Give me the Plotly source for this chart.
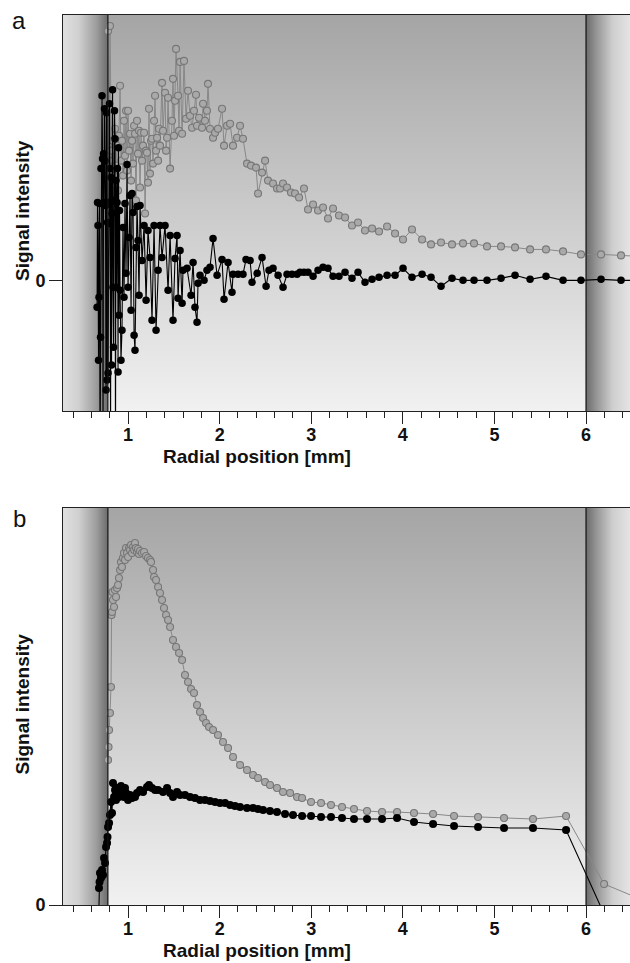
import plotly.graph_objects as go

# ---------------- data (x: radial position in mm, y: signal intensity, arbitrary units) ----------------
# Panel a, black (filled) series
A_BLACK = [
    (0.662, -27), (0.667, 78), (0.672, 55), (0.678, -80), (0.683, -17), (0.689, 77), (0.694, -180),
    (0.700, -57), (0.705, 112), (0.716, 185), (0.722, 122), (0.727, -160), (0.733, 127), (0.738, 78),
    (0.743, 172), (0.749, 120), (0.754, 75), (0.760, -110), (0.765, 168), (0.771, -100), (0.776, 58),
    (0.782, -93), (0.787, 78), (0.793, 57), (0.798, 177), (0.803, 112), (0.809, -180), (0.814, 103),
    (0.820, -85), (0.825, 67), (0.831, 191), (0.836, -7), (0.842, -67), (0.847, 80), (0.852, 170),
    (0.858, 142), (0.863, -170), (0.869, 100), (0.874, -7), (0.880, 78), (0.885, 112), (0.891, -92),
    (0.896, 133), (0.901, -35), (0.907, 70), (0.913, -10), (0.923, -80), (0.934, -50), (0.945, 53),
    (0.956, -17), (0.967, 77), (0.978, 7), (0.989, 116), (1.000, -7), (1.011, 43), (1.022, 85),
    (1.033, -30), (1.044, 87), (1.055, 68), (1.066, -55), (1.076, -70), (1.087, 33), (1.098, 74),
    (1.109, 40), (1.120, -15), (1.131, 75), (1.153, 20), (1.175, 55), (1.197, -20), (1.218, 50),
    (1.240, 23), (1.262, -40), (1.284, 55), (1.306, -50), (1.328, 10), (1.349, 55), (1.371, 23),
    (1.404, 55), (1.437, -10), (1.459, 45), (1.491, -40), (1.513, 22), (1.535, 45), (1.546, -18),
    (1.568, 30), (1.590, -23), (1.600, 10), (1.644, 12), (1.688, -15), (1.710, 18), (1.731, -27),
    (1.753, -42), (1.764, -3), (1.786, 5), (1.830, 0), (1.862, 10), (1.895, 13), (1.928, 42),
    (1.972, 5), (2.026, 21), (2.048, -19), (2.092, 18), (2.135, -12), (2.146, 6), (2.201, 6),
    (2.255, 6), (2.288, 21), (2.332, 20), (2.354, -2), (2.410, 7), (2.463, 23), (2.507, -6),
    (2.539, 10), (2.583, 12), (2.638, 5), (2.692, -7), (2.736, 6), (2.790, 6), (2.845, 6),
    (2.878, 8), (2.921, 8), (2.965, 8), (3.020, 4), (3.074, 10), (3.129, 13), (3.183, 12),
    (3.238, 4), (3.303, 4), (3.369, 8), (3.445, 2), (3.511, 8), (3.587, -2), (3.664, 1),
    (3.740, 3), (3.828, 5), (3.915, 5), (4.002, 12), (4.100, 3), (4.210, 6), (4.308, 3),
    (4.417, -6), (4.537, 2), (4.657, 0), (4.777, 0), (4.919, 0), (5.072, 2), (5.225, 5),
    (5.389, 1), (5.563, 4), (5.749, 0), (5.945, 0), (6.164, 1), (6.382, 0), (6.590, 0),
]

# Panel a, grey (open) series
A_GREY = [
    (0.782, 250), (0.793, 120), (0.803, 255), (0.814, 130), (0.825, 80), (0.836, 140), (0.847, 105),
    (0.858, 152), (0.869, 115), (0.880, 135), (0.891, 90), (0.901, 145), (0.913, 195), (0.923, 120),
    (0.934, 140), (0.945, 105), (0.956, 160), (0.967, 125), (0.978, 170), (0.989, 110), (1.000, 170),
    (1.011, 130), (1.022, 147), (1.033, 100), (1.044, 140), (1.055, 117), (1.066, 155), (1.076, 147),
    (1.087, 80), (1.098, 160), (1.109, 127), (1.120, 150), (1.131, 93), (1.142, 148), (1.153, 120),
    (1.164, 135), (1.175, 148), (1.186, 67), (1.197, 130), (1.207, 128), (1.218, 98), (1.229, 172),
    (1.240, 107), (1.251, 140), (1.262, 142), (1.273, 117), (1.284, 160), (1.295, 185), (1.306, 130),
    (1.317, 143), (1.328, 120), (1.338, 152), (1.349, 135), (1.371, 198), (1.382, 150), (1.404, 188),
    (1.415, 130), (1.426, 143), (1.437, 183), (1.459, 112), (1.480, 160), (1.491, 202), (1.502, 145),
    (1.513, 180), (1.524, 232), (1.546, 185), (1.557, 150), (1.568, 219), (1.590, 147), (1.611, 220),
    (1.633, 162), (1.655, 190), (1.677, 165), (1.699, 153), (1.720, 170), (1.742, 186), (1.753, 155),
    (1.775, 163), (1.808, 153), (1.819, 177), (1.840, 160), (1.862, 170), (1.873, 197), (1.895, 152),
    (1.928, 143), (1.950, 148), (1.982, 152), (2.026, 172), (2.048, 135), (2.081, 155), (2.114, 157),
    (2.146, 135), (2.190, 143), (2.223, 155), (2.255, 142), (2.299, 117), (2.343, 115), (2.397, 113),
    (2.419, 87), (2.463, 108), (2.496, 120), (2.528, 100), (2.583, 97), (2.626, 92), (2.659, 92),
    (2.692, 97), (2.736, 93), (2.779, 88), (2.823, 87), (2.867, 83), (2.921, 92), (2.965, 71),
    (3.020, 76), (3.074, 70), (3.129, 73), (3.183, 62), (3.238, 72), (3.303, 65), (3.369, 63),
    (3.445, 55), (3.511, 58), (3.587, 50), (3.664, 52), (3.740, 49), (3.828, 54), (3.915, 47),
    (4.002, 41), (4.100, 51), (4.210, 41), (4.308, 36), (4.417, 38), (4.537, 36), (4.657, 37),
    (4.777, 37), (4.919, 34), (5.072, 34), (5.225, 33), (5.389, 31), (5.563, 31), (5.749, 29),
    (5.945, 26), (6.164, 26), (6.382, 25), (6.590, 24),
]

# Panel b, black (filled) series
B_BLACK = [
    (0.678, -20), (0.683, 17), (0.689, 23), (0.694, 32), (0.705, 27), (0.716, 35), (0.727, 30),
    (0.738, 47), (0.749, 42), (0.760, 58), (0.771, 62), (0.776, 68), (0.782, 78), (0.793, 82),
    (0.803, 90), (0.814, 103), (0.825, 92), (0.836, 122), (0.847, 108), (0.858, 115), (0.869, 105),
    (0.880, 117), (0.891, 115), (0.901, 108), (0.913, 113), (0.923, 119), (0.934, 110), (0.945, 115),
    (0.956, 108), (0.967, 117), (0.978, 112), (1.000, 105), (1.022, 110), (1.044, 107), (1.076, 108),
    (1.098, 112), (1.131, 115), (1.164, 113), (1.207, 118), (1.229, 120), (1.262, 117), (1.295, 115),
    (1.328, 115), (1.382, 113), (1.426, 117), (1.459, 112), (1.491, 108), (1.535, 113), (1.568, 110),
    (1.622, 110), (1.677, 108), (1.731, 107), (1.786, 105), (1.840, 105), (1.895, 104), (1.950, 103),
    (2.004, 102), (2.059, 102), (2.114, 100), (2.168, 99), (2.223, 98), (2.299, 97), (2.365, 97),
    (2.419, 96), (2.474, 95), (2.550, 94), (2.626, 93), (2.714, 91), (2.801, 90), (2.900, 89),
    (2.998, 89), (3.107, 88), (3.216, 88), (3.336, 87), (3.467, 86), (3.609, 86), (3.773, 86),
    (3.937, 87), (4.122, 83), (4.330, 81), (4.559, 79), (4.821, 78), (5.105, 77), (5.421, 77),
    (5.782, 75), (6.197, -9),
]

# Panel b, grey (open) series
B_GREY = [
    (0.782, 145), (0.787, 158), (0.793, 175), (0.803, 192), (0.814, 218), (0.820, 290), (0.825, 293),
    (0.831, 313), (0.836, 305), (0.847, 298), (0.858, 315), (0.869, 308), (0.880, 317), (0.891, 320),
    (0.901, 327), (0.913, 335), (0.923, 343), (0.934, 338), (0.945, 347), (0.956, 352), (0.967, 345),
    (0.978, 357), (0.989, 352), (1.000, 348), (1.011, 357), (1.022, 355), (1.033, 360), (1.044, 352),
    (1.055, 358), (1.066, 355), (1.076, 362), (1.087, 357), (1.098, 353), (1.109, 356), (1.120, 351),
    (1.131, 354), (1.153, 352), (1.175, 353), (1.197, 349), (1.218, 347), (1.240, 345), (1.251, 343),
    (1.273, 335), (1.284, 328), (1.306, 325), (1.328, 318), (1.349, 312), (1.371, 305), (1.393, 297),
    (1.415, 290), (1.437, 285), (1.459, 278), (1.491, 265), (1.524, 258), (1.557, 252), (1.590, 245),
    (1.622, 230), (1.655, 223), (1.688, 216), (1.720, 212), (1.753, 200), (1.786, 193), (1.819, 187),
    (1.852, 182), (1.884, 178), (1.928, 175), (1.982, 170), (2.037, 163), (2.092, 157), (2.146, 148),
    (2.223, 140), (2.299, 135), (2.365, 130), (2.419, 127), (2.496, 123), (2.550, 120), (2.626, 117),
    (2.692, 113), (2.769, 112), (2.845, 108), (2.900, 107), (2.998, 103), (3.107, 102), (3.216, 100),
    (3.336, 98), (3.467, 96), (3.609, 94), (3.773, 93), (3.937, 93), (4.122, 92), (4.330, 91),
    (4.559, 89), (4.821, 88), (5.105, 87), (5.421, 86), (5.782, 89), (6.197, 21), (6.590, 6),
]

X_TICKS = [1, 2, 3, 4, 5, 6]
X_TICK_LABELS = ["1", "2", "3", "4", "5", "6"]
Y_TICKS = [0]
Y_TICK_LABELS = ["0"]
PANEL_LABELS = ["a", "b"]
X_TITLE = "Radial position [mm]"
Y_TITLE = "Signal intensity"

# boundaries of the shaded regions (mm)
INNER_WALL = 0.78
OUTER_WALL = 6.0
X_RANGE = [0.29, 6.48]
Y_RANGE_A = [-131, 266]
Y_RANGE_B = [0, 397]

FONT = "Liberation Sans, Arial, Helvetica, sans-serif"


def xs(pairs):
    return [p[0] for p in pairs]


def ys(pairs):
    return [p[1] for p in pairs]


fig = go.Figure()


def rect(xa, ya, x0, x1, y0, y1, gtype, scale):
    fig.add_trace(go.Scatter(
        x=[x0, x1, x1, x0, x0], y=[y0, y0, y1, y1, y0], xaxis=xa, yaxis=ya,
        mode="none", fill="toself",
        fillgradient=dict(type=gtype, colorscale=scale),
        hoverinfo="skip", showlegend=False))


MAIN_SCALE = [[0, "#f1f1f1"], [1, "#a5a5a5"]]
LEFT_SCALE = [[0, "#e0e0e0"], [0.35, "#d0d0d0"], [0.75, "#9c9c9c"], [1, "#6c6c6c"]]
RIGHT_SCALE = [[0, "#6c6c6c"], [0.25, "#979797"], [0.6, "#cecece"], [1, "#e4e4e4"]]

for xa, ya, yr in (("x", "y", Y_RANGE_A), ("x2", "y2", Y_RANGE_B)):
    rect(xa, ya, INNER_WALL, OUTER_WALL, yr[0], yr[1], "vertical", MAIN_SCALE)
    rect(xa, ya, X_RANGE[0], INNER_WALL, yr[0], yr[1], "horizontal", LEFT_SCALE)
    rect(xa, ya, OUTER_WALL, X_RANGE[1], yr[0], yr[1], "horizontal", RIGHT_SCALE)

GREY_LINE = dict(color="#888888", width=1)
BLACK_LINE = dict(color="#000000", width=1.1)

for xa, ya, grey, black, gsz, bsz in (("x", "y", A_GREY, A_BLACK, 7, 7.5),
                                      ("x2", "y2", B_GREY, B_BLACK, 7, 8)):
    fig.add_trace(go.Scatter(x=xs(grey), y=ys(grey), xaxis=xa, yaxis=ya, mode="lines+markers",
                             marker=dict(symbol="circle", size=gsz, color="#a9a9a9",
                                         line=dict(color="#777777", width=1.1)),
                             line=GREY_LINE, showlegend=False, hoverinfo="skip"))
    fig.add_trace(go.Scatter(x=xs(black), y=ys(black), xaxis=xa, yaxis=ya, mode="lines+markers",
                             marker=dict(symbol="circle", size=bsz, color="#000000", line=dict(width=0)),
                             line=BLACK_LINE, showlegend=False, hoverinfo="skip"))

W, H = 630, 963
ML = 63
TOP_A, BOT_A = 15, 411
TOP_B, BOT_B = 508, 905

xaxis_common = dict(
    range=X_RANGE, tickvals=X_TICKS, ticktext=["<b>%s</b>" % t for t in X_TICK_LABELS],
    ticks="outside", ticklen=12, tickwidth=1, tickcolor="#222", ticklabelstandoff=-5,
    minor=dict(dtick=0.2, tick0=0, ticks="outside", ticklen=6, tickwidth=1, tickcolor="#222"),
    showline=True, linecolor="#222", linewidth=1, mirror=True,
    showgrid=False, zeroline=False, automargin=False,
    tickfont=dict(family=FONT, size=18, color="#111"),
)
yaxis_common = dict(
    tickvals=Y_TICKS, ticktext=["<b>%s</b>" % t for t in Y_TICK_LABELS],
    ticks="outside", ticklen=13, tickwidth=1, tickcolor="#222",
    showline=True, linecolor="#222", linewidth=1, mirror=False,
    showgrid=False, automargin=False,
    tickfont=dict(family=FONT, size=18, color="#111"),
)

fig.update_layout(
    width=W, height=H,
    margin=dict(l=ML, r=0, t=0, b=0),
    paper_bgcolor="white", plot_bgcolor="white",
    xaxis=dict(domain=[0, 1], anchor="y", **xaxis_common),
    yaxis=dict(domain=[1 - BOT_A / H, 1 - TOP_A / H], anchor="x", range=Y_RANGE_A,
               zeroline=True, zerolinecolor="#000", zerolinewidth=1.2, **yaxis_common),
    xaxis2=dict(domain=[0, 1], anchor="y2", **xaxis_common),
    yaxis2=dict(domain=[1 - BOT_B / H, 1 - TOP_B / H], anchor="x2", range=Y_RANGE_B,
                zeroline=False, **yaxis_common),
    showlegend=False,
)

shapes = []
for xr, yr in (("x", "y domain"), ("x2", "y2 domain")):
    for xv in (INNER_WALL, OUTER_WALL):
        shapes.append(dict(type="line", xref=xr, yref=yr, x0=xv, x1=xv, y0=0, y1=1,
                           line=dict(color="#111", width=1.2)))
fig.update_layout(shapes=shapes)

PW = W - ML


def px_x(p):
    return (p - ML) / PW


def px_y(p):
    return 1 - p / H


ann = []
for label, ytop in zip(PANEL_LABELS, (20, 518)):
    ann.append(dict(text=label, x=px_x(19), y=px_y(ytop), xref="paper", yref="paper",
                    showarrow=False, xanchor="center", yanchor="middle",
                    font=dict(family=FONT, size=24, color="#111")))
for top, bot in ((TOP_A, BOT_A), (TOP_B, BOT_B)):
    ann.append(dict(text="<b>%s</b>" % Y_TITLE, x=px_x(22), y=px_y((top + bot) / 2 - 2),
                    xref="paper", yref="paper", showarrow=False, textangle=-90,
                    xanchor="center", yanchor="middle",
                    font=dict(family=FONT, size=19, color="#111")))
for bot in (BOT_A, BOT_B):
    ann.append(dict(text="<b>%s</b>" % X_TITLE, x=px_x(257), y=px_y(bot + 45),
                    xref="paper", yref="paper", showarrow=False,
                    xanchor="center", yanchor="middle",
                    font=dict(family=FONT, size=19, color="#111")))
fig.update_layout(annotations=ann)

fig.write_html("out.html", config={"displayModeBar": False},
               post_script="document.body.style.margin='0';document.body.style.overflow='hidden';")
